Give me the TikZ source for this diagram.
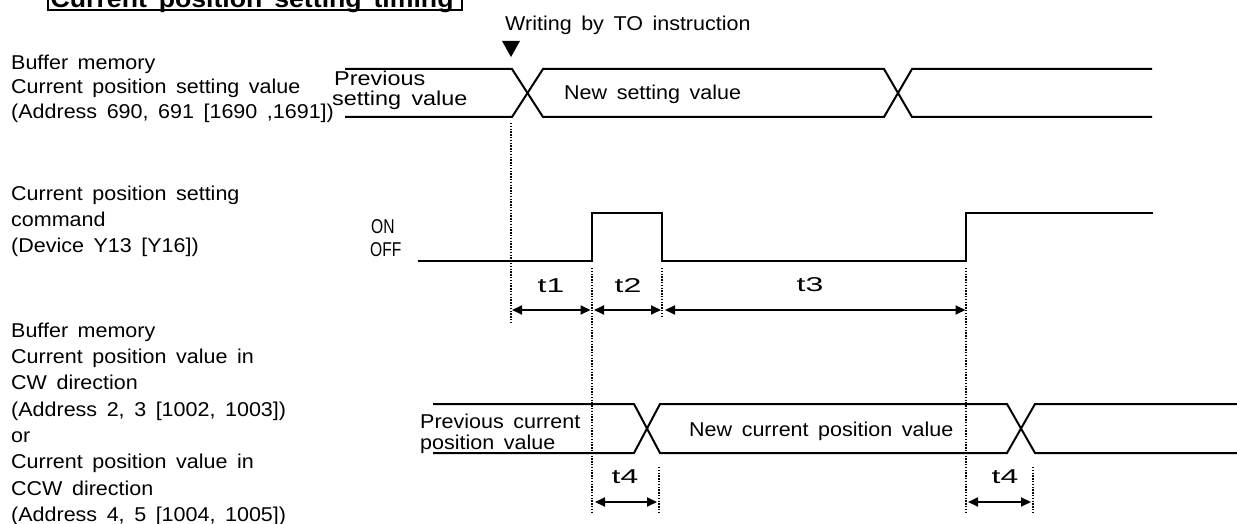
\documentclass[tikz,border=0pt]{standalone}
\usepackage{fontspec}
\setmainfont{Liberation Sans}[FakeStretch=1.075,WordSpace=1.6]
\newfontfamily\fprev{Liberation Sans}[FakeStretch=1.17,WordSpace=1.6]
\newfontfamily\fonoff{Liberation Sans}[FakeStretch=0.78]
\newfontfamily\ftee{Liberation Sans}[FakeStretch=1.6]
\usetikzlibrary{arrows.meta}
\begin{document}
\begin{tikzpicture}[x=1pt,y=-1pt,
  sig/.style={line width=2pt, line join=miter},
  dotl/.style={line width=1.3pt, dash pattern=on 1.4pt off 1.4pt},
  dim/.style={line width=1.8pt, {Triangle[length=10pt,width=9pt]}-{Triangle[length=10pt,width=9pt]}},
  lbl/.style={anchor=base west, inner sep=0pt, font=\fontsize{20}{24}\selectfont},
  plbl/.style={anchor=base west, inner sep=0pt, font=\fprev\fontsize{20}{24}\selectfont},
  olbl/.style={anchor=base west, inner sep=0pt, font=\fonoff\fontsize{20}{24}\selectfont},
  tlbl/.style={anchor=base, inner sep=0pt, font=\ftee\fontsize{20}{24}\selectfont},
]
\useasboundingbox (0,0) rectangle (1237,524);
\fill[white] (0,0) rectangle (1237,524);

% title
\node[anchor=base west, inner sep=0pt, font=\bfseries\fontsize{24.8}{28}\selectfont] (title) at (50.5,7.5) {Current position setting timing};
\draw[line width=1.6pt] (48,-30) -- (48,10.5) -- (462,10.5) -- (462,-30);
\draw[line width=2.8pt] (48,10) -- (462,10);

% left labels
\node[lbl] (a1) at (11,69.5) {Buffer memory};
\node[lbl] (a2) at (11,94) {Current position setting value};
\node[lbl] (a3) at (11,118.5) {(Address 690, 691 [1690 ,1691])};
\node[lbl] (b1) at (11,200.7) {Current position setting};
\node[lbl] (b2) at (11,226.5) {command};
\node[lbl] (b3) at (11,252) {(Device Y13 [Y16])};
\node[lbl] (c1) at (11,337) {Buffer memory};
\node[lbl] (c2) at (11,363.4) {Current position value in};
\node[lbl] (c3) at (11,389.8) {CW direction};
\node[lbl] (c4) at (11,416.1) {(Address 2, 3 [1002, 1003])};
\node[lbl] (c5) at (11,442.5) {or};
\node[lbl] (c6) at (11,468.9) {Current position value in};
\node[lbl] (c7) at (11,495.3) {CCW direction};
\node[lbl] (c8) at (11,521.7) {(Address 4, 5 [1004, 1005])};

% writing marker
\node[lbl] (wr) at (505,30.5) {Writing by TO instruction};
\fill (502,41) -- (520,41) -- (511,57) -- cycle;

% signal 1
\draw[sig] (345,69) -- (512,69) -- (543,117) -- (884,117) -- (912,69) -- (1152,69);
\draw[sig] (345,117) -- (512,117) -- (543,69) -- (884,69) -- (912,117) -- (1152,117);
\node[plbl] (p1) at (334,86) {Previous};
\node[plbl] (p2) at (332,106) {setting value};
\node[lbl] (ns) at (564,100) {New setting value};

% signal 2 (pulse)
\node[olbl] (on) at (371,233) {ON};
\node[olbl] (off) at (370,256) {OFF};
\draw[sig] (418,261) -- (592,261) -- (592,213) -- (662,213) -- (662,261) -- (966,261) -- (966,213) -- (1153,213);

% signal 3
\draw[sig] (433,404) -- (634,404) -- (660,453) -- (1007,453) -- (1035,404) -- (1237,404);
\draw[sig] (433,453) -- (634,453) -- (660,404) -- (1007,404) -- (1035,453) -- (1237,453);
\node[lbl] (pc1) at (420,428.3) {Previous current};
\node[lbl] (pc2) at (420,449.3) {position value};
\node[lbl] (nc) at (689,436.7) {New current position value};

% dotted guide lines
\coordinate (g1t) at (511,123); \coordinate (g1b) at (511,323);
\coordinate (g2t) at (592,268); \coordinate (g2b) at (592,512);
\coordinate (g3t) at (662,268); \coordinate (g3b) at (662,316);
\coordinate (g4t) at (966,268); \coordinate (g4b) at (966,512);
\coordinate (g5t) at (659,467); \coordinate (g5b) at (659,512);
\coordinate (g6t) at (1033,467); \coordinate (g6b) at (1033,512);
\foreach \g in {1,...,6} { \draw[dotl] (g\g t) -- (g\g b); }

% dimension arrows
\coordinate (t1l) at (512,310); \coordinate (t1r) at (590.5,310);
\coordinate (t2l) at (594,310); \coordinate (t2r) at (661,310);
\coordinate (t3l) at (665,310); \coordinate (t3r) at (965.5,310);
\coordinate (t4l) at (595,502); \coordinate (t4r) at (657,502);
\coordinate (t5l) at (968,502); \coordinate (t5r) at (1031,502);
\draw[dim] (t1l) -- (t1r);
\draw[dim] (t2l) -- (t2r);
\draw[dim] (t3l) -- (t3r);
\draw[dim] (t4l) -- (t4r);
\draw[dim] (t5l) -- (t5r);
\node[tlbl] (lt1) at (551,292) {t1};
\node[tlbl] (lt2) at (628,292) {t2};
\node[tlbl] (lt3) at (810,291) {t3};
\node[tlbl] (lt4) at (625,483.5) {t4};
\node[tlbl] (lt5) at (1005,483.5) {t4};
\end{tikzpicture}
\end{document}
